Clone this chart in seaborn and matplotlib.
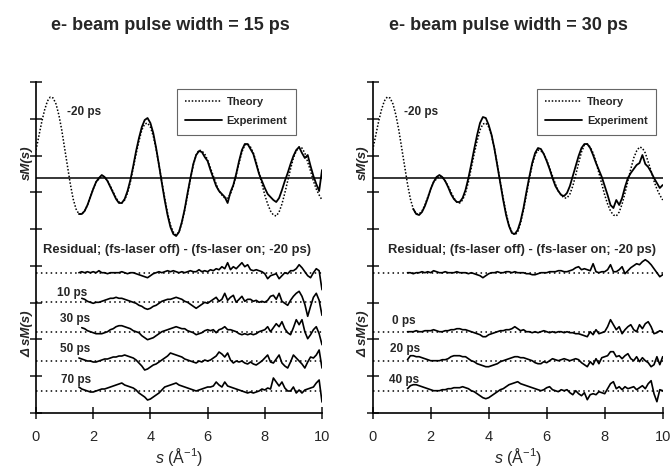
import numpy as np
import pandas as pd
import matplotlib
matplotlib.use("Agg")
import matplotlib.pyplot as plt
import seaborn as sns
from matplotlib.lines import Line2D

# s grid step is 0.1 A^-1 (arbitrary units)
theory = [28, 42, 56, 68, 77, 81, 80, 74, 63, 48,
          30, 12, -6, -21, -31, -36, -36, -33, -27, -19,
          -11, -4, -1, 2, 1, -3, -8, -14, -20, -24,
          -25, -22, -15, -4, 10, 24, 37, 48, 54, 55,
          51, 42, 29, 13, -4, -20, -35, -47, -54, -57,
          -54, -45, -32, -17, -1, 13, 23, 28, 27, 24,
          18, 10, 2, -6, -13, -17, -20, -20, -16, -8,
          3, 15, 26, 33, 34, 31, 25, 16, 5, -6,
          -17, -26, -33, -37, -38, -34, -26, -15, -3, 9,
          20, 27, 31, 30, 25, 16, 7, -3, -11, -17,
          -22]

exp_15_start = 1.5
exp_15 = [-36, -36, -33, -27, -19,
          -11, -4, 0, 3, 1, -3, -9, -15, -21, -25,
          -25, -21, -13, -2, 12, 27, 40, 51, 58, 60,
          55, 45, 30, 13, -5, -22, -37, -49, -56, -58,
          -54, -44, -31, -15, 0, 14, 23, 27, 26, 21,
          17, 8, 0, -8, -13, -16, -19, -25, -14, -7,
          4, 17, 28, 34, 34, 29, 24, 14, 4, -3,
          -10, -16, -19, -22, -24, -20, -12, -3, 5, 14,
          22, 28, 31, 25, 20, 23, 12, 2, -6, -13,
          8]

exp_30_start = 1.4
exp_30 = [-31, -36, -37, -34, -28, -20,
          -11, -4, 1, 3, 1, -3, -9, -16, -21, -24,
          -24, -20, -12, 0, 14, 29, 43, 55, 61, 60,
          53, 43, 29, 12, -5, -22, -37, -48, -55, -56,
          -52, -43, -30, -14, 1, 15, 25, 30, 29, 24,
          17, 9, 0, -8, -13, -17, -18, -15, -8, 2,
          12, 22, 30, 34, 34, 30, 23, 15, 8, 1,
          -8, -17, -27, -30, -22, -27, -20, -9, 0, 5,
          9, 13, 15, 23, 14, 11, 6, 0, -5, -10,
          -7]

# residuals, 15 ps panel
res_off_15_start = 1.5
res_off_15 = [0, 1, 0, 1, 0,
              1, 0, 2, 0, 0, -1, 0, 0, 0, 0,
              1, 0, -1, 0, 0, -1, -2, -3, -4, -5,
              -3, -1, 0, 1, 0, 1, 2, 1, 2, 1,
              0, 1, 0, 1, 2, 1, 1, 3, 1, 2,
              1, 3, 2, 4, 3, 6, 4, 10, 3, 6,
              4, 7, 10, 6, 8, 3, 2, 3, 2, 1,
              -1, -6, -3, -2, -1, -6, -3, 0, -1, 2,
              2, 4, 8, 5, 1, -3, -5, 0, 4, 2,
              -17]
res_10ps_start = 1.6
res_10ps = [4, 3, 1, 0,
            -1, 0, 0, 1, 2, 3, 4, 4, 5, 4,
            4, 3, 2, 1, 0, -1, -3, -4, -6, -7,
            -6, -4, -3, -1, 1, 2, 3, 3, 4, 5,
            4, 3, 1, 0, -2, -4, -6, -4, -2, 0,
            -1, 1, 3, 5, 1, 3, 9, 2, 5, 7,
            0, 3, 6, 1, 3, 3, 1, 2, 0, 1,
            0, 2, 6, 7, 3, 9, 1, -1, -3, 2,
            6, 9, 11, 6, -2, -14, -4, 5, 9, 2,
            -13]
res_30ps_start = 1.6
res_30ps = [4, 3, 1, 0,
            -1, -2, -2, -2, -1, 0, 2, 3, 5, 6,
            6, 5, 4, 3, 1, 0, -1, -4, -6, -8,
            -7, -6, -4, -2, 0, 1, 2, 3, 4, 5,
            4, 3, 3, 1, 0, -1, -3, -2, -1, 1,
            2, 1, 2, -1, 2, 3, 5, 2, 2, 1,
            0, -2, -3, -2, -3, -2, -3, -2, 0, 1,
            2, 5, 0, 4, 8, 5, 10, 3, -1, -3,
            4, 12, 7, 12, 0, -7, -3, 2, 5, -2,
            -13]
res_50ps_start = 1.5
res_50ps = [3, 2, 1, 0, 0,
            -1, -1, 0, 1, 2, 2, 3, 4, 4, 5,
            5, 6, 5, 4, 3, 1, -2, -5, -9, -8,
            -6, -4, -3, -1, 1, 3, 5, 8, 7, 6,
            5, 4, 2, 1, 0, -1, -2, 0, -1, 1,
            0, 1, 3, 5, 9, 7, 4, 8, 1, -2,
            0, -1, 0, -2, -3, -1, -3, -4, -2, 0,
            3, 6, -1, -2, 2, 6, -2, -5, -7, -1,
            6, 3, 0, -3, -7, -1, 4, 3, 6, 11,
            -7]
res_70ps_start = 1.5
res_70ps = [4, 2, 1, 0, -1,
            -1, 0, 1, 2, 2, 3, 4, 5, 6, 7,
            8, 6, 5, 4, 3, 1, -2, -4, -6, -9,
            -8, -6, -4, -2, 1, 4, 5, 6, 7, 8,
            6, 5, 4, 3, 2, 1, 0, 1, 2, 3,
            4, 4, 5, 9, 6, 4, 9, 5, 4, 3,
            2, 1, 0, -1, -2, -1, -2, -1, 0, 2,
            1, 3, 2, 13, 9, 5, 9, 3, 0, 0,
            4, -2, 1, -2, 1, 2, 3, 4, 8, 11,
            -11]

# residuals, 30 ps panel
res_off_30_start = 1.2
res_off_30 = [0, 0, -1, 0, 0, 1, 0, 1,
              0, 2, 1, 0, 0, 1, 0, 0, 0, 1,
              0, 0, 0, -1, 0, -1, -2, -3, -5, -3,
              -1, 0, 0, 1, 0, 0, 1, 1, 0, 1,
              0, 0, 0, -1, -1, -2, -2, -1, 0, 0,
              0, 1, 1, 1, 2, 2, 1, 1, 2, 3,
              5, 6, 3, 4, 3, 2, 9, 1, 0, 1,
              1, 3, 8, 1, 1, 3, 6, -1, 2, 5,
              7, 9, 8, 11, 13, 11, 8, 4, 0, -4,
              -2]
res_0ps_start = 1.2
res_0ps = [0, 0, 0, 1, 0, 0, 1, 1,
           1, 2, 1, 0, 0, 1, 1, 2, 2, 3,
           3, 2, 2, 1, 0, -1, -2, -3, -5, -5,
           -3, -2, -1, 0, 1, 1, 2, 2, 3, 5,
           3, 1, 2, 0, 0, -1, 0, -1, 0, 1,
           0, -1, 0, -1, 0, 0, -1, 0, -1, -1,
           -2, -2, -3, -4, -5, 0, -3, 2, -2, -1,
           0, 5, 12, 7, 2, 5, -2, 2, 5, 7,
           2, 0, 7, 3, 8, 10, 5, -2, -1, 1,
           0]
res_20ps_start = 1.2
res_20ps = [1, 5, 5, 4, 4, 3, 2, 1,
            0, 0, 0, 0, 1, 1, 2, 4, 5, 5,
            5, 4, 4, 2, 0, -1, -3, -4, -5, -6,
            -6, -5, -4, -3, -1, 0, 1, 2, 3, 4,
            4, 3, 3, 2, 1, 0, -2, -3, -3, -1,
            -2, 0, 2, 1, 0, 1, 2, 1, 0, 1,
            2, 1, -2, -4, -6, -1, -4, 2, -3, 3,
            4, 5, 9, 9, 4, 5, 2, 5, 7, 2,
            0, 4, -1, 3, 0, -2, -6, -4, 4, -4,
            4]
res_40ps_start = 1.2
res_40ps = [2, 5, 6, 6, 5, 4, 3, 2,
            1, 0, 0, 0, 1, 1, 2, 2, 3, 3,
            3, 4, 3, 2, 0, -1, -3, -5, -7, -8,
            -7, -5, -3, -1, 1, 2, 4, 6, 7, 8,
            9, 7, 6, 5, 4, 3, 2, 1, 0, 1,
            3, 4, 1, 0, -1, 1, 0, 1, -2, -4,
            0, -3, -5, -2, -9, -4, -3, -4, -1, -2,
            -3, 2, 7, 9, 2, 4, 1, 4, 2, 3,
            4, 1, 3, 5, 2, 7, 10, -3, -11, 1,
            0]


def trace(vals, start):
    return pd.DataFrame({"s": np.round(start + 0.1 * np.arange(len(vals)), 1),
                         "v": np.asarray(vals, dtype=float)})


def draw(ax, df, base, ls="-", lw=1.0):
    d = df.assign(v=df["v"] + base)
    sns.lineplot(data=d, x="s", y="v", ax=ax, color="black", lw=lw,
                 linestyle=ls, estimator=None, sort=False, legend=False)


sns.set_style("ticks")
plt.rcParams["font.family"] = ["Liberation Sans", "DejaVu Sans"]
plt.rcParams["mathtext.fontset"] = "custom"
plt.rcParams["mathtext.rm"] = "Liberation Sans"
plt.rcParams["mathtext.it"] = "Liberation Sans:italic"

fig = plt.figure(figsize=(6.7, 4.69), dpi=100)
ax_l = fig.add_axes([36 / 670, 56 / 469, 286 / 670, 331 / 469])
ax_r = fig.add_axes([372.7 / 670, 56 / 469, 290 / 670, 331 / 469])

sm_zero = 235
theory_df = trace(theory, 0.0)
dot_theory = (0, (1, 1.2))
dot_base = (0, (1, 2.2))

panels = [
    (ax_l, trace(exp_15, exp_15_start),
     [(trace(res_off_15, res_off_15_start), 140.3, None),
      (trace(res_10ps, res_10ps_start), 110.7, ("10 ps", 0.72, 120.3)),
      (trace(res_30ps, res_30ps_start), 81.3, ("30 ps", 0.84, 94)),
      (trace(res_50ps, res_50ps_start), 52, ("50 ps", 0.84, 64)),
      (trace(res_70ps, res_70ps_start), 22, ("70 ps", 0.87, 33))],
     0.25, 0.492),
    (ax_r, trace(exp_30, exp_30_start),
     [(trace(res_off_30, res_off_30_start), 140.3, None),
      (trace(res_0ps, res_0ps_start), 81.3, ("0 ps", 0.66, 92.3)),
      (trace(res_20ps, res_20ps_start), 52.3, ("20 ps", 0.60, 64)),
      (trace(res_40ps, res_40ps_start), 22.3, ("40 ps", 0.56, 33))],
     0.54, 0.566),
]

for ax, exp_df, residuals, res_x, leg_x in panels:
    ax.axhline(sm_zero, color="black", lw=1.1)
    draw(ax, theory_df, sm_zero, ls=dot_theory, lw=1.1)
    draw(ax, exp_df, sm_zero, lw=1.3)
    for df, base, lab in residuals:
        ax.axhline(base, color="black", lw=1.1, ls=dot_base)
        draw(ax, df, base, lw=1.2)
        if lab:
            ax.text(lab[1], lab[2], lab[0], fontsize=8.5, fontweight="bold",
                    ha="left", va="center")
    ax.text(1.07, 301, "-20 ps", fontsize=8.5, fontweight="bold", ha="left", va="center")
    ax.text(res_x, 163, "Residual; (fs-laser off) - (fs-laser on; -20 ps)",
            fontsize=9.4, fontweight="bold", ha="left", va="center")

    handles = [Line2D([], [], color="black", lw=1.1, ls=dot_theory),
               Line2D([], [], color="black", lw=1.3)]
    leg = ax.legend(handles, ["Theory", "Experiment"], loc="upper left",
                    bbox_to_anchor=(leg_x, 0.979), fancybox=False, framealpha=1,
                    edgecolor="#666666", prop=dict(weight="bold", size=8),
                    handlelength=3.3, handletextpad=0.45, borderpad=0.75,
                    labelspacing=0.8, borderaxespad=0)
    leg.get_frame().set_linewidth(0.8)

    ax.set_xlim(0, 10)
    ax.set_ylim(0, 331)
    ax.set_xticks([0, 2, 4, 6, 8, 10])
    ax.set_yticks(np.arange(10) * 36.78)
    ax.set_yticklabels([])
    ax.tick_params(direction="inout", length=8, width=1.2, labelsize=10.5, pad=8)
    ax.set_xlabel(r"$s$ (Å$^{-1}$)", fontsize=11.5, labelpad=2)
    ax.set_ylabel("")
    for side in ["top", "right"]:
        ax.spines[side].set_visible(False)
    for side in ["left", "bottom"]:
        ax.spines[side].set_linewidth(1.2)
        ax.spines[side].set_color("black")

fig.text(170.8 / 670, 1 - 25 / 469, "e- beam pulse width = 15 ps",
         fontsize=13, fontweight="bold", ha="center", va="center")
fig.text(508 / 670, 1 - 25 / 469, "e- beam pulse width = 30 ps",
         fontsize=13, fontweight="bold", ha="center", va="center")
for xp in [27 / 670, 363 / 670]:
    fig.text(xp, 1 - 163 / 469, "sM(s)", rotation=90, fontsize=9.5,
             fontweight="bold", style="italic", ha="center", va="center")
    fig.text(xp, 1 - 334 / 469, "Δ sM(s)", rotation=90, fontsize=9.5,
             fontweight="bold", style="italic", ha="center", va="center")

fig.savefig("out.png", dpi=100, facecolor="white")
